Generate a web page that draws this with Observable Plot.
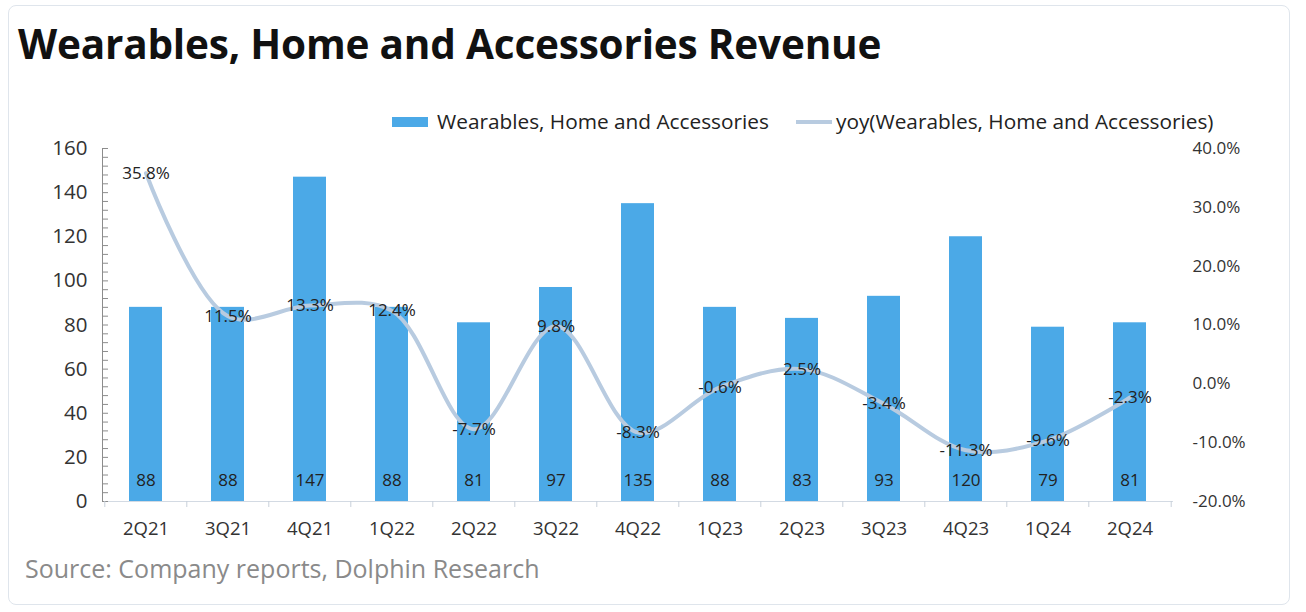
<!DOCTYPE html>
<html><head><meta charset="utf-8">
<script src="https://cdn.jsdelivr.net/npm/d3@7"></script>
<script src="https://cdn.jsdelivr.net/npm/@observablehq/plot@0.6"></script>
<style>
body{margin:0;background:#fff;font-family:"Open Sans",sans-serif;}
#wrap{position:relative;width:1306px;height:612px;overflow:hidden;background:#fff;}
#frame{position:absolute;left:8px;top:5px;width:1282px;height:600px;border:1px solid #dfe5ec;border-radius:8px;box-sizing:border-box;}
#title{position:absolute;left:18px;top:16px;font-weight:700;font-size:40.5px;color:#111;white-space:nowrap;letter-spacing:-0.2px;}
.lg{position:absolute;font-size:20.8px;color:#222;white-space:nowrap;top:107px;}
.sw{position:absolute;}
#source{position:absolute;left:25px;top:551px;font-size:25px;color:#8a8a8a;white-space:nowrap;}
#chart{position:absolute;left:0;top:100px;}
</style></head>
<body><div id="wrap">
<div id="frame"></div>
<div id="title">Wearables, Home and Accessories Revenue</div>
<div class="sw" style="left:392px;top:117px;width:36px;height:10px;background:#4BA9E7"></div>
<div class="lg" style="left:437px">Wearables, Home and Accessories</div>
<div class="sw" style="left:796px;top:120px;width:36px;height:4px;background:#B8CBE0"></div>
<div class="lg" style="left:836px">yoy(Wearables, Home and Accessories)</div>
<div id="chart"></div>
<div id="source">Source: Company reports, Dolphin Research</div>
</div>
<script>
const quarters = ["2Q21","3Q21","4Q21","1Q22","2Q22","3Q22","4Q22","1Q23","2Q23","3Q23","4Q23","1Q24","2Q24"];
const revenue = [88, 88, 147, 88, 81, 97, 135, 88, 83, 93, 120, 79, 81];
const yoy = [35.8, 11.5, 13.3, 12.4, -7.7, 9.8, -8.3, -0.6, 2.5, -3.4, -11.3, -9.6, -2.3];
const leftTicks = [0, 20, 40, 60, 80, 100, 120, 140, 160];
const rightTicks = [-20, -10, 0, 10, 20, 30, 40];

const toLeft = p => (p + 20) / 60 * 160;
const data = quarters.map((q, i) => ({q, rev: revenue[i], yoy: yoy[i]}));
const W = 1306, ML = 102, MR = 133;
const step = (W - ML - MR) / quarters.length;

const chart = Plot.plot({
  width: W, height: 450,
  marginLeft: ML, marginRight: MR, marginTop: 48, marginBottom: 49,
  style: {fontFamily: "'Open Sans', sans-serif", background: "transparent"},
  x: {domain: quarters, paddingInner: 0.6, paddingOuter: 0.3, axis: null},
  y: {domain: [0, 160], axis: null},
  marks: [
    Plot.barY(data, {x: "q", y: "rev", fill: "#4BA9E7"}),
    Plot.ruleY([0], {stroke: "#d3dae3"}),
    Plot.frame({anchor: "left", stroke: "#8c8c8c"}),
    Plot.axisY({anchor: "left", ticks: d3.range(0, 161, 4), tickSize: -6, tickFormat: () => "", stroke: "#8c8c8c", label: null}),
    Plot.axisY({anchor: "left", ticks: leftTicks, tickSize: 0, tickPadding: 15, fontSize: 20.5, fill: "#333", label: null}),
    Plot.axisY({anchor: "right", ticks: rightTicks.map(toLeft), tickSize: 0, tickPadding: 19, fontSize: 17, fill: "#333", label: null,
      tickFormat: v => Math.round(v * 60 / 160 - 20).toFixed(1) + "%"}),
    Plot.axisX({ticks: quarters, tickSize: 6, dx: -step / 2, tickFormat: () => "", stroke: "#c8d0da", label: null}),
    Plot.axisX({ticks: [quarters[quarters.length - 1]], tickSize: 6, dx: step / 2, tickFormat: () => "", stroke: "#c8d0da", label: null}),
    Plot.axisX({tickSize: 0, tickPadding: 20, fontSize: 18.5, fill: "#333", label: null}),
    Plot.text(data, {x: "q", y: 0, dy: -21, text: d => String(d.rev), fill: "#222", fontSize: 17}),
    Plot.line(data, {x: "q", y: d => toLeft(d.yoy), stroke: "#B8CBE0", strokeWidth: 4, curve: "catmull-rom"}),
    Plot.text(data, {x: "q", y: d => toLeft(d.yoy), text: d => d.yoy.toFixed(1) + "%", fill: "#222", fontSize: 17})
  ]
});
document.getElementById("chart").appendChild(chart);
</script>
</body></html>
